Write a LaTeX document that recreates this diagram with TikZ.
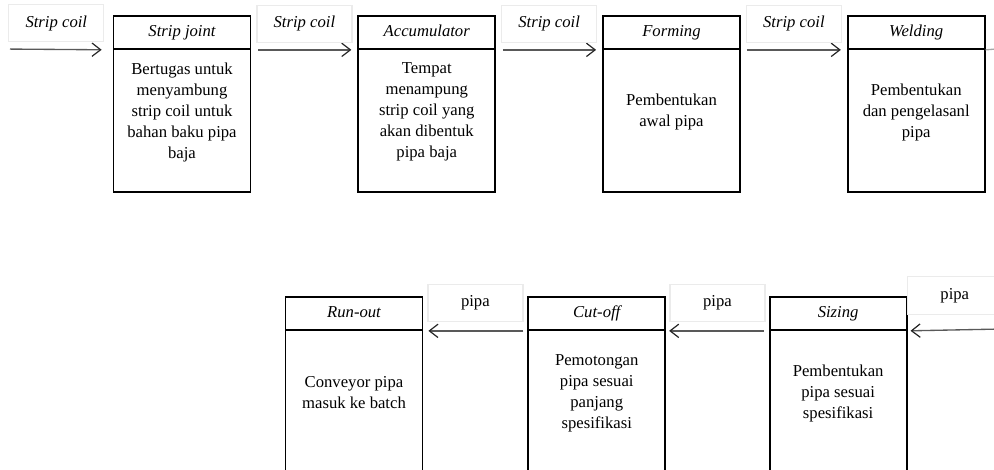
\documentclass[tikz,border=0pt]{standalone}
\usepackage{fontspec}
\setmainfont{Liberation Serif}
\usetikzlibrary{positioning,arrows.meta}

\begin{document}
\begin{tikzpicture}[x=0.75pt,y=-0.75pt,
                        every node/.style={font=\fontsize{12.5}{15.75}\selectfont},
                        stage/.style={rectangle, draw, line width=1.3pt, inner sep=0pt,
                                      minimum width=102.75pt, minimum height=132pt},
                        stage head/.style={rectangle, draw, line width=1.3pt, inner sep=0pt, anchor=north,
                                      minimum width=102.75pt, minimum height=24.75pt,
                                      text height=9pt, text depth=3pt,
                                      font=\fontsize{12.5}{15.75}\selectfont\itshape},
                        stage text/.style={align=center, inner sep=0pt},
                        flow/.style={draw=black!65, line width=1pt,
                                     -{Straight Barb[length=6.5pt,width=10pt,line width=0.9pt,black!85]}},
                        tag/.style={draw=black!8, inner sep=0pt, text height=9pt, text depth=3pt,
                                    minimum width=71.25pt, minimum height=27.75pt}]

        \useasboundingbox (0,0) rectangle (994,470);

        % upper row, left to right
        \node[stage] (joint) at (182,104) {};
        \node[stage, right=79.5pt of joint] (accu) {};
        \node[stage, right=79.5pt of accu] (form) {};
        \node[stage, right=79.5pt of form] (weld) {};

        \node[stage head] (joint-h) at (joint.north) {Strip joint};
        \node[stage head] (accu-h) at (accu.north) {Accumulator};
        \node[stage head] (form-h) at (form.north) {Forming};
        \node[stage head] (weld-h) at (weld.north) {Welding};

        \node[stage text] at ([yshift=-6pt]joint.center) {Bertugas untuk\\menyambung\\strip coil untuk\\bahan baku pipa\\baja};
        \node[stage text] at ([yshift=-6pt]accu.center) {Tempat\\menampung\\strip coil yang\\akan dibentuk\\pipa baja};
        \node[stage text] at ([yshift=-6pt]form.center) {Pembentukan\\awal pipa};
        \node[stage text] at ([yshift=-6pt]weld.center) {Pembentukan\\dan pengelasanl\\pipa};

        % lower row, right to left
        \node[stage] (run) at (354,385) {};
        \node[stage, right=78pt of run] (cut) {};
        \node[stage, right=77pt of cut] (size) {};

        \node[stage head] (run-h) at (run.north) {Run-out};
        \node[stage head] (cut-h) at (cut.north) {Cut-off};
        \node[stage head] (size-h) at (size.north) {Sizing};

        \node[stage text] at ([yshift=-6pt]run.center) {Conveyor pipa\\masuk ke batch};
        \node[stage text] at ([yshift=-6pt]cut.center) {Pemotongan\\pipa sesuai\\panjang\\spesifikasi};
        \node[stage text] at ([yshift=-6pt]size.center) {Pembentukan\\pipa sesuai\\spesifikasi};

        \coordinate (in) at (0,49);
        \coordinate (out) at (996,49);
        \coordinate (back) at (1002,329);

        \draw[flow, shorten <=7.5pt, shorten >=8.25pt] (in) -- node[tag, above=5.25pt] {\textit{Strip coil}} (joint-h.south west);
        \draw[flow, shorten <=5pt, shorten >=4.5pt] (joint-h.south east) -- node[tag, above=5.25pt] {\textit{Strip coil}} (accu-h.south west);
        \draw[flow, shorten <=5pt, shorten >=4.5pt] (accu-h.south east) -- node[tag, above=5.25pt] {\textit{Strip coil}} (form-h.south west);
        \draw[flow, shorten <=4.5pt, shorten >=4.5pt] (form-h.south east) -- node[tag, above=5.25pt] {\textit{Strip coil}} (weld-h.south west);
        \draw[draw=black!35, line width=1pt] (weld-h.south east) -- (out);

        \draw[flow, shorten >=2.25pt] (back) -- node[tag, above=11.25pt, minimum height=28.5pt] {pipa} (size-h.south east);
        \draw[flow, shorten <=3.75pt, shorten >=2.25pt] (size-h.south west) -- node[tag, above=6.75pt] {pipa} (cut-h.south east);
        \draw[flow, shorten <=3pt, shorten >=3.75pt] (cut-h.south west) -- node[tag, above=6.75pt] {pipa} (run-h.south east);
    \end{tikzpicture}
\end{document}
